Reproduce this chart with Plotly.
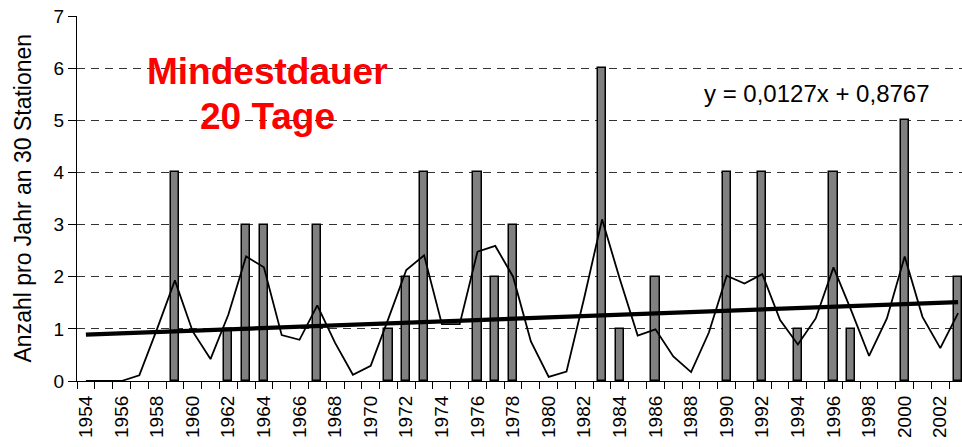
import plotly.graph_objects as go

years = list(range(1954, 2004))
counts = [0, 0, 0, 0, 0, 4, 0, 0, 1, 3,
          3, 0, 0, 3, 0, 0, 0, 1, 2, 4,
          0, 0, 4, 2, 3, 0, 0, 0, 0, 6,
          1, 0, 2, 0, 0, 0, 4, 0, 4, 0,
          1, 0, 4, 1, 0, 0, 5, 0, 0, 2]
smooth = [0.0, 0.0, 0.0, 0.11, 1.0, 1.93, 0.95, 0.42, 1.27, 2.39,
          2.18, 0.88, 0.79, 1.45, 0.73, 0.12, 0.29, 1.2, 2.13, 2.41,
          1.09, 1.09, 2.48, 2.59, 2.0, 0.76, 0.08, 0.18, 1.6, 3.1,
          1.95, 0.87, 0.99, 0.47, 0.17, 0.93, 2.02, 1.87, 2.05, 1.17,
          0.70, 1.2, 2.18, 1.35, 0.48, 1.2, 2.39, 1.23, 0.63, 1.3]
trend_slope = 0.0127
trend_intercept = 0.8767
trend_x = [years[0], years[-1]]
trend_y = [trend_slope * 1 + trend_intercept, trend_slope * len(years) + trend_intercept]
tick_years = list(range(1954, 2004, 2))
y_ticks = list(range(0, 8))

FONT = "Liberation Sans, Arial, sans-serif"

# zero-count years draw no bar
bar_vals = [c if c > 0 else None for c in counts]

fig = go.Figure()
fig.add_trace(go.Bar(
    x=years, y=bar_vals, width=0.47,
    marker=dict(color="#808080", line=dict(color="black", width=1.5)),
    showlegend=False, hoverinfo="skip"))
fig.add_trace(go.Scatter(
    x=years, y=smooth, mode="lines",
    line=dict(color="black", width=1.8), showlegend=False))
fig.add_trace(go.Scatter(
    x=trend_x, y=trend_y, mode="lines",
    line=dict(color="black", width=4.2), showlegend=False))

fig.update_layout(
    width=962, height=447,
    margin=dict(l=77, r=0, t=16, b=66),
    paper_bgcolor="white", plot_bgcolor="white",
    font=dict(family=FONT, color="black"),
    bargap=0,
    xaxis=dict(
        range=[1953.5, 2003.22],
        tickmode="array", tickvals=tick_years, ticktext=[str(y) for y in tick_years],
        tickangle=-90, ticks="", tickfont=dict(size=19, family=FONT),
        ticklabelstandoff=6, automargin=False,
        showgrid=False, zeroline=False,
        showline=True, linecolor="black", linewidth=1.2,
        minor=dict(ticks="outside", tick0=1953.5, dtick=1, ticklen=7,
                   tickcolor="black", tickwidth=1, showgrid=False),
    ),
    yaxis=dict(
        range=[0, 7], automargin=False,
        tickmode="array", tickvals=y_ticks,
        ticks="outside", ticklen=8, tickcolor="black", tickwidth=1,
        tickfont=dict(size=19, family=FONT),
        showgrid=True, gridcolor="#333333", gridwidth=1, griddash="8px,6px",
        zeroline=False, showline=True, linecolor="black", linewidth=1.2,
    ),
    annotations=[
        dict(text="Anzahl pro Jahr an 30 Stationen", xref="paper", yref="paper",
             x=0, y=0.5, xshift=-55, textangle=-90, showarrow=False,
             font=dict(size=23, family=FONT, color="black"),
             xanchor="center", yanchor="middle"),
        dict(text="<b>Mindestdauer</b>", xref="x", yref="y", x=1964.23, y=5.93,
             showarrow=False, font=dict(size=37, family=FONT, color="#ff0000"),
             xanchor="center", yanchor="middle"),
        dict(text="<b>20 Tage</b>", xref="x", yref="y", x=1964.23, y=5.08,
             showarrow=False, font=dict(size=37, family=FONT, color="#ff0000"),
             xanchor="center", yanchor="middle"),
        dict(text="y = 0,0127x + 0,8767", xref="x", yref="y", x=1995.07, y=5.52,
             showarrow=False, font=dict(size=24, family=FONT, color="black"),
             xanchor="center", yanchor="middle"),
    ],
)

fig.write_html("out.html", config={"displayModeBar": False},
               post_script="document.body.style.margin='0';")
